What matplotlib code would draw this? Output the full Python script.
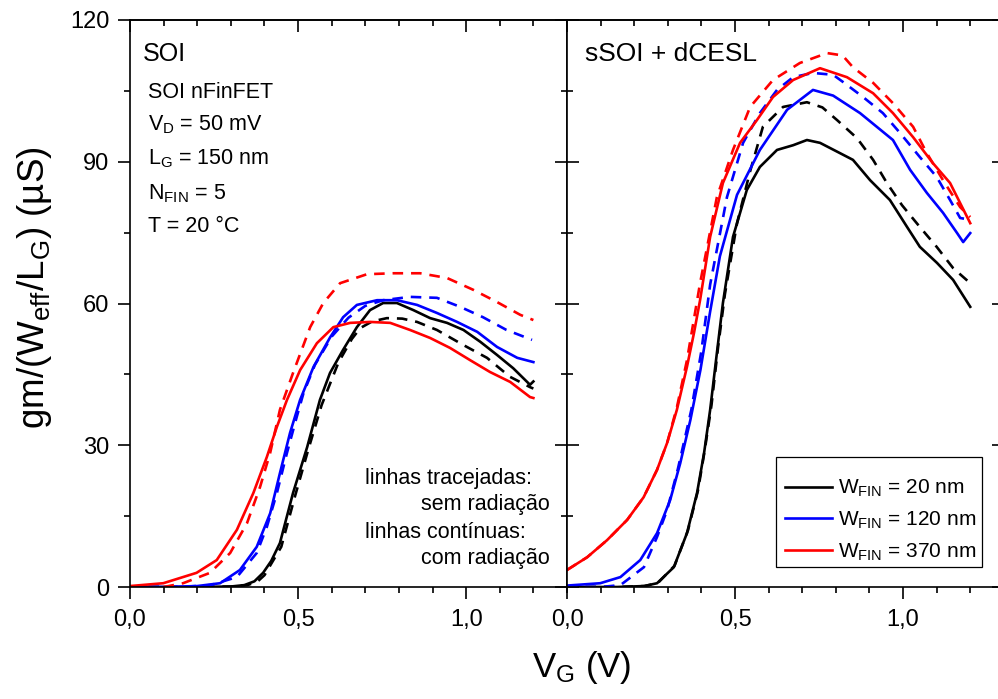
import numpy as np
import matplotlib
matplotlib.use("Agg")
import matplotlib.pyplot as plt
from matplotlib.ticker import MultipleLocator, FuncFormatter
from matplotlib.lines import Line2D
from matplotlib.patches import Rectangle

plt.rcParams['font.family'] = ['Liberation Sans', 'DejaVu Sans']
plt.rcParams['mathtext.fontset'] = 'custom'
plt.rcParams['mathtext.rm'] = 'Liberation Sans'
plt.rcParams['mathtext.it'] = 'Liberation Sans:italic'
plt.rcParams['mathtext.default'] = 'regular'

# ---- SOI panel (left) ----
soi_x_20r = [0, 0.2, 0.30, 0.34, 0.37, 0.396, 0.42, 0.446, 0.485, 0.527, 0.565, 0.595, 0.634, 0.675, 0.714,
             0.753, 0.794, 0.843, 0.893, 0.943, 0.992, 1.042, 1.092, 1.14, 1.19, 1.2]
soi_y_20r = [0, 0, 0.1, 0.4, 1.2, 3.0, 5.5, 9.3, 19.9, 29.6, 39.6, 45.3, 50.2, 55, 58.6,
             60.1, 60.1, 58.6, 56.9, 55.9, 54.4, 51.9, 49.1, 46.3, 42.8, 43.5]
soi_x_20n = [0, 0.2, 0.30, 0.35, 0.38, 0.40, 0.45, 0.49, 0.53, 0.57, 0.62, 0.66, 0.685, 0.72, 0.764,
             0.81, 0.854, 0.913, 0.992, 1.062, 1.13, 1.19, 1.2]
soi_y_20n = [0, 0, 0.1, 0.4, 1.2, 2.5, 8.5, 19, 29, 38.5, 47.5, 52.5, 54.8, 56.2, 56.9,
             56.8, 56.1, 54.4, 51.2, 48.5, 44.5, 42.3, 42.0]
soi_x_120r = [0, 0.1, 0.2, 0.268, 0.327, 0.377, 0.417, 0.446, 0.476, 0.506, 0.546, 0.595, 0.634, 0.675,
              0.735, 0.794, 0.854, 0.913, 0.973, 1.033, 1.092, 1.152, 1.2]
soi_y_120r = [0, 0, 0.2, 0.8, 3.6, 8.5, 15.6, 24.1, 32.6, 39.6, 46.6, 52.8, 57.1, 59.7,
              60.7, 60.7, 59.7, 58, 56.1, 54, 50.8, 48.5, 47.6]
soi_x_120n = [0, 0.15, 0.24, 0.318, 0.377, 0.407, 0.437, 0.467, 0.496, 0.516, 0.55, 0.60, 0.65, 0.70,
              0.753, 0.833, 0.913, 0.982, 1.05, 1.12, 1.196]
soi_y_120n = [0, 0, 0.4, 2.1, 7.2, 12.7, 19.9, 28.4, 36, 41, 47, 53, 57, 59.5,
              60.7, 61.4, 61.2, 59.3, 57.1, 54.4, 52.3]
soi_x_370r = [0, 0.099, 0.198, 0.258, 0.318, 0.367, 0.407, 0.437, 0.467, 0.506, 0.556, 0.605, 0.655,
              0.714, 0.774, 0.833, 0.893, 0.952, 1.012, 1.071, 1.131, 1.19, 1.2]
soi_y_370r = [0.2, 0.8, 3.0, 5.7, 12.1, 19.9, 27.5, 33.9, 39.6, 45.9, 51.6, 55.0, 55.9,
              56.1, 55.9, 54.4, 52.7, 50.6, 48.0, 45.5, 43.4, 40.2, 40.0]
soi_x_370n = [0.10, 0.158, 0.238, 0.298, 0.348, 0.387, 0.417, 0.446, 0.485, 0.536, 0.575, 0.625, 0.705,
              0.783, 0.863, 0.943, 1.021, 1.092, 1.161, 1.2]
soi_y_370n = [0, 0.8, 3.0, 7.2, 13.5, 21.2, 28.4, 37.5, 45.3, 55, 60.1, 64.3, 66.2,
              66.4, 66.4, 65.4, 62.9, 60.3, 57.6, 56.5]

# ---- sSOI + dCESL panel (right) ----
ss_x_20r = [0, 0.15, 0.23, 0.268, 0.318, 0.357, 0.387, 0.408, 0.426, 0.446, 0.464, 0.494, 0.535, 0.574,
            0.625, 0.673, 0.714, 0.753, 0.813, 0.851, 0.902, 0.961, 1.012, 1.05, 1.101, 1.149, 1.2]
ss_y_20r = [0, 0, 0.2, 0.8, 4.2, 11.4, 19.9, 28.4, 37.5, 49.5, 60.1, 74.1, 84, 88.9,
            92.5, 93.5, 94.6, 94, 91.8, 90.4, 86.1, 81.9, 76.2, 72, 68.6, 65, 59.3]
ss_x_20n = [0, 0.15, 0.23, 0.27, 0.32, 0.36, 0.39, 0.41, 0.43, 0.45, 0.47, 0.506, 0.545, 0.583,
            0.643, 0.714, 0.760, 0.804, 0.863, 0.911, 0.952, 0.997, 1.05, 1.1, 1.149, 1.2]
ss_y_20n = [0, 0, 0.2, 0.8, 4.5, 12, 20.5, 29, 38.5, 51, 62, 77, 88, 97.4,
            101.6, 102.6, 101.5, 98.8, 95, 90.4, 85.5, 80.8, 76.2, 72, 67.5, 64.3]
ss_x_120r = [0, 0.099, 0.159, 0.218, 0.268, 0.307, 0.337, 0.367, 0.397, 0.426, 0.455, 0.506, 0.574,
             0.655, 0.732, 0.792, 0.872, 0.97, 1.021, 1.071, 1.119, 1.161, 1.179, 1.2]
ss_y_120r = [0.3, 0.8, 2.1, 5.7, 11.4, 18.4, 26.2, 35.3, 45.9, 58.3, 70, 83, 92.5,
             101, 105.2, 104, 100.3, 94.6, 88.3, 83.4, 79.2, 74.9, 73, 74.9]
ss_x_120n = [0, 0.1, 0.159, 0.229, 0.268, 0.298, 0.33, 0.37, 0.40, 0.426, 0.476, 0.524, 0.574, 0.625,
             0.673, 0.732, 0.792, 0.821, 0.881, 0.94, 0.991, 1.05, 1.1, 1.14, 1.17, 1.2]
ss_y_120n = [0, 0, 0.4, 4.2, 10.6, 16.3, 25, 37.5, 50, 64, 82.5, 94, 100.3, 105.2,
             107.9, 108.8, 108.4, 106.9, 103.7, 100.3, 96.1, 91, 86.8, 81.9, 78.1, 77.7]
ss_x_370r = [0, 0.06, 0.119, 0.179, 0.228, 0.268, 0.298, 0.327, 0.357, 0.378, 0.396, 0.426, 0.464, 0.515,
             0.565, 0.613, 0.673, 0.753, 0.833, 0.911, 0.97, 1.03, 1.089, 1.14, 1.2]
ss_y_370r = [3.6, 6.3, 9.9, 14.2, 19, 24.8, 30.5, 37.5, 46.6, 53.8, 60.7, 74.1, 85.5, 94,
             98.8, 103.7, 107.3, 109.8, 107.9, 104.5, 100.3, 95.2, 89.7, 85.5, 77]
ss_x_370n = [0, 0.06, 0.119, 0.179, 0.228, 0.268, 0.298, 0.327, 0.357, 0.396, 0.446, 0.494, 0.545, 0.613,
             0.693, 0.774, 0.82, 0.851, 0.911, 0.97, 1.03, 1.071, 1.119, 1.17, 1.2]
ss_y_370n = [3.6, 6.3, 9.9, 14.2, 19, 24.8, 30.5, 38, 48, 64.3, 82.5, 92.5, 101.6, 107.3,
             110.9, 113, 112.5, 110, 106.7, 102.4, 97.4, 91.8, 86.1, 80.4, 78.3]

colors = ['black', '#0000ff', '#ff0000']
labels = ['W$_{FIN}$ = 20 nm', 'W$_{FIN}$ = 120 nm', 'W$_{FIN}$ = 370 nm']

W, H = 998, 699
fig = plt.figure(figsize=(W / 100, H / 100), dpi=100)
ax1 = fig.add_axes([130 / W, 1 - 587 / H, 437 / W, 567 / H])
ax2 = fig.add_axes([567 / W, 1 - 587 / H, 436.5 / W, 567 / H])

lw = 1.9
dash = (4, 3)
left_sets = [(soi_x_20r, soi_y_20r, soi_x_20n, soi_y_20n),
             (soi_x_120r, soi_y_120r, soi_x_120n, soi_y_120n),
             (soi_x_370r, soi_y_370r, soi_x_370n, soi_y_370n)]
right_sets = [(ss_x_20r, ss_y_20r, ss_x_20n, ss_y_20n),
              (ss_x_120r, ss_y_120r, ss_x_120n, ss_y_120n),
              (ss_x_370r, ss_y_370r, ss_x_370n, ss_y_370n)]

for ax, sets in ((ax1, left_sets), (ax2, right_sets)):
    for c, (xr, yr, xn, yn) in zip(colors, sets):
        ax.plot(xn, yn, color=c, lw=lw, dashes=dash)
        ax.plot(xr, yr, color=c, lw=lw)

comma = FuncFormatter(lambda v, p: f"{v:.1f}".replace('.', ','))
for ax, xmax in ((ax1, 1.3), (ax2, 1.299)):
    ax.set_xlim(0, xmax)
    ax.set_ylim(0, 120)
    ax.xaxis.set_major_locator(MultipleLocator(0.5))
    ax.xaxis.set_minor_locator(MultipleLocator(0.1))
    ax.yaxis.set_major_locator(MultipleLocator(30))
    ax.yaxis.set_minor_locator(MultipleLocator(15))
    ax.xaxis.set_major_formatter(comma)
    for s in ax.spines.values():
        s.set_linewidth(1.2)
    ax.tick_params(axis='x', which='both', bottom=True, labelsize=17, pad=7, direction='out')
    ax.tick_params(axis='x', which='major', length=8.5, width=1.2)
    ax.tick_params(axis='x', which='minor', length=4.5, width=1.2)
    ax.tick_params(axis='y', which='major', length=8.5, width=1.2, labelsize=17, pad=6.5)
    ax.tick_params(axis='y', which='minor', length=4.5, width=1.2)

# top ticks point inward, bottom outward
for ax in (ax1, ax2):
    sec = ax.secondary_xaxis('top')
    sec.xaxis.set_major_locator(MultipleLocator(0.5))
    sec.xaxis.set_minor_locator(MultipleLocator(0.1))
    sec.tick_params(which='both', direction='in', labeltop=False, width=1.2)
    sec.tick_params(which='major', length=8.5)
    sec.tick_params(which='minor', length=4.5)
    sec.spines['top'].set_linewidth(1.2)
    ax.tick_params(axis='x', which='both', top=False)

ax1.tick_params(axis='y', which='both', left=True, right=False, direction='out')
sec1 = ax1.secondary_yaxis('right')
sec1.yaxis.set_major_locator(MultipleLocator(30))
sec1.yaxis.set_minor_locator(MultipleLocator(15))
sec1.tick_params(which='both', direction='in', labelright=False, width=1.2)
sec1.tick_params(which='major', length=8.5)
sec1.tick_params(which='minor', length=4.5)

ax2.tick_params(axis='y', which='both', left=True, right=False, direction='in', labelleft=False)
ax2.spines['right'].set_visible(False)
sec2 = ax2.secondary_yaxis('right')
sec2.yaxis.set_major_locator(MultipleLocator(30))
sec2.yaxis.set_minor_locator(MultipleLocator(15))
sec2.tick_params(which='both', direction='in', labelright=False, width=1.2)
sec2.tick_params(which='major', length=8.5)
sec2.tick_params(which='minor', length=0)
sec2.spines['right'].set_visible(False)

# panel titles and notes
ax1.text(0.03, 0.94, 'SOI', transform=ax1.transAxes, fontsize=18, va='center', ha='left')
ax2.text(0.042, 0.94, 'sSOI + dCESL', transform=ax2.transAxes, fontsize=19, va='center', ha='left')

notes = ['SOI nFinFET', 'V$_D$ = 50 mV', 'L$_G$ = 150 nm', 'N$_{FIN}$ = 5', 'T = 20 °C']
note_y = [0.873, 0.815, 0.755, 0.694, 0.636]
for t, yy in zip(notes, note_y):
    ax1.text(0.041, yy, t, transform=ax1.transAxes, fontsize=15.5, va='center', ha='left')

ax1.text(0.538, 0.192, 'linhas tracejadas:', transform=ax1.transAxes, fontsize=15.5, va='center', ha='left')
ax1.text(0.961, 0.145, 'sem radiação', transform=ax1.transAxes, fontsize=15.5, va='center', ha='right')
ax1.text(0.538, 0.097, 'linhas contínuas:', transform=ax1.transAxes, fontsize=15.5, va='center', ha='left')
ax1.text(0.961, 0.051, 'com radiação', transform=ax1.transAxes, fontsize=15.5, va='center', ha='right')

# legend (frame drawn separately to match the boxed layout)
handles = [Line2D([], [], color=c, lw=lw) for c in colors]
leg = ax2.legend(handles, labels, loc='upper left', bbox_to_anchor=(785 / W, 1 - 478 / H),
                 bbox_transform=fig.transFigure, borderaxespad=0, borderpad=0, fontsize=15,
                 frameon=False, handlelength=2.26, handletextpad=0.29, labelspacing=0.5)
fig.patches.append(Rectangle((776 / W, 1 - 567 / H), 206 / W, 110 / H, transform=fig.transFigure,
                             facecolor='none', edgecolor='black', lw=0.9, zorder=5))

fig.text(35 / W, 1 - 288 / H, 'gm/(W$_{eff}$/L$_G$) (µS)', rotation=90, fontsize=26.5,
         va='center', ha='center')
fig.text(582 / W, 1 - 668 / H, 'V$_G$ (V)', fontsize=25, va='center', ha='center')

fig.savefig('out.png', dpi=100)
